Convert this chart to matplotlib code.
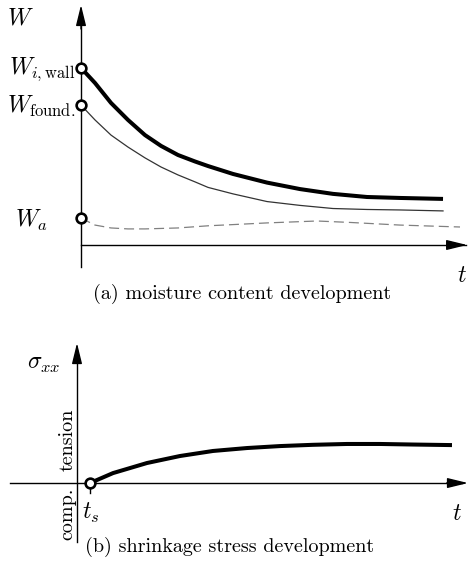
import numpy as np
import matplotlib.pyplot as plt

plt.rcParams['mathtext.fontset'] = 'cm'

# (a) moisture content, time in arbitrary units
t_w = [0.0, 0.364, 0.779, 1.221, 1.662, 2.078, 2.519, 2.961, 3.299,
       3.948, 4.831, 5.688, 6.545, 7.429, 8.286, 9.403]
W_wall = [0.738, 0.675, 0.592, 0.521, 0.458, 0.413, 0.375, 0.348, 0.329,
          0.296, 0.260, 0.233, 0.213, 0.200, 0.196, 0.192]
W_found = [0.583, 0.521, 0.458, 0.408, 0.363, 0.325, 0.292, 0.263, 0.240,
           0.213, 0.181, 0.165, 0.152, 0.148, 0.146, 0.142]
t_a = [0.0, 0.364, 0.779, 1.221, 1.662, 2.519, 3.299, 3.948, 4.831,
       6.130, 6.987, 8.286, 9.844]
W_a = [0.112, 0.083, 0.071, 0.067, 0.067, 0.071, 0.080, 0.085, 0.092,
       0.100, 0.094, 0.083, 0.075]

# (b) shrinkage stress
t_s = 0.338
t_sig = [0.338, 0.935, 1.818, 2.675, 3.532, 4.416, 5.273, 6.130, 7.013,
         7.870, 8.727, 9.740]
sigma = [0.0, 0.071, 0.143, 0.193, 0.229, 0.250, 0.264, 0.273, 0.279,
         0.279, 0.275, 0.271]

fig = plt.figure(figsize=(4.68, 5.69), dpi=100)

circ = dict(marker='o', ms=7, mfc='white', mec='black', mew=1.9, ls='none',
            zorder=5, clip_on=False)
arrow = dict(arrowstyle='-|>,head_length=0.9,head_width=0.22', color='black',
             lw=1.0, shrinkA=0, shrinkB=0, mutation_scale=14)
cm_text = dict(fontfamily='cmr10', fontsize=14.5)
msize = 17

# ---- moisture content ----
ax1 = fig.add_axes([0, 0, 1, 1])
ax1.set_xlim(-2.104, 10.052)
ax1.set_ylim(-1.35, 1.0208)
ax1.axis('off')

ax1.plot([0, 0], [-0.092, 0.95], color='black', lw=1.0)
ax1.annotate('', xy=(0, 1.0), xytext=(0, 0.9), arrowprops=arrow)
ax1.plot([0, 10.0], [0, 0], color='black', lw=1.0)
ax1.annotate('', xy=(10.03, 0), xytext=(9.5, 0), arrowprops=arrow)

ax1.plot(t_w, W_wall, color='black', lw=2.9, solid_capstyle='butt',
         solid_joinstyle='round')
ax1.plot(t_w, W_found, color='#333333', lw=0.9, solid_joinstyle='round')
ax1.plot(t_a, W_a, color='#808080', lw=0.9, ls=(0, (8, 4)))
ax1.plot([0, 0, 0], [W_wall[0], W_found[0], W_a[0]], **circ)

ax1.text(-1.58, 0.946, '$W$', fontsize=msize, ha='center', va='center')
ax1.text(-0.14, W_wall[0] - 0.005, r'$W_{i,\mathrm{wall}}$', fontsize=msize,
         ha='right', va='center')
ax1.text(-0.14, W_found[0] - 0.005, r'$W_{\mathrm{found.}}$', fontsize=msize,
         ha='right', va='center')
ax1.text(-1.71, W_a[0] - 0.01, '$W_a$', fontsize=msize, ha='left', va='center')
ax1.text(9.9, -0.125, '$t$', fontsize=msize, ha='center', va='center')
ax1.text(4.18, -0.205, '(a) moisture content development',
         ha='center', va='center', **cm_text)

# ---- shrinkage stress ----
ax2 = fig.add_axes([0, 0, 1, 1])
ax2.patch.set_alpha(0)
ax2.set_xlim(-2.0, 10.156)
ax2.set_ylim(-0.614, 3.45)
ax2.axis('off')

ax2.plot([0, 0], [-0.421, 0.95], color='black', lw=1.0)
ax2.annotate('', xy=(0, 1.0), xytext=(0, 0.9), arrowprops=arrow)
ax2.plot([-1.74, 10.0], [0, 0], color='black', lw=1.0)
ax2.annotate('', xy=(10.156, 0), xytext=(9.6, 0), arrowprops=arrow)
ax2.plot([t_s, t_s], [0, -0.07], color='black', lw=1.0)

ax2.plot(t_sig, sigma, color='black', lw=2.9, solid_capstyle='butt',
         solid_joinstyle='round')
ax2.plot([t_s], [0], **circ)

ax2.text(-0.86, 0.857, r'$\sigma_{xx}$', fontsize=msize, ha='center',
         va='center')
ax2.text(-0.25, 0.307, 'tension', rotation=90, ha='center', va='center',
         **cm_text)
ax2.text(-0.25, -0.221, 'comp.', rotation=90, ha='center', va='center',
         **cm_text)
ax2.text(0.36, -0.214, '$t_s$', fontsize=msize, ha='center', va='center')
ax2.text(9.87, -0.214, '$t$', fontsize=msize, ha='center', va='center')
ax2.text(3.97, -0.457, '(b) shrinkage stress development',
         ha='center', va='center', **cm_text)

fig.savefig('out.png', dpi=100)
